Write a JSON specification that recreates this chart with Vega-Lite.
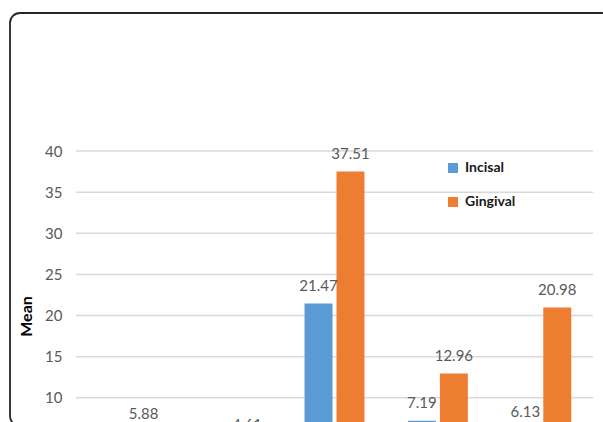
{
  "$schema": "https://vega.github.io/schema/vega-lite/v6.json",
  "width": 593,
  "height": 409,
  "autosize": {"type": "none"},
  "padding": {"left": 10, "top": 13, "right": 0, "bottom": 0},
  "background": "white",
  "config": {
    "view": {"stroke": null},
    "font": "Lato"
  },
  "datasets": {
    "bars": [
      {"group": "Group 1", "series": "Incisal", "value": 2.1},
      {"group": "Group 1", "series": "Gingival", "value": 5.88},
      {"group": "Group 2", "series": "Incisal", "value": 1.8},
      {"group": "Group 2", "series": "Gingival", "value": 4.61},
      {"group": "Group 3", "series": "Incisal", "value": 21.47},
      {"group": "Group 3", "series": "Gingival", "value": 37.51},
      {"group": "Group 4", "series": "Incisal", "value": 7.19},
      {"group": "Group 4", "series": "Gingival", "value": 12.96},
      {"group": "Group 5", "series": "Incisal", "value": 6.13},
      {"group": "Group 5", "series": "Gingival", "value": 20.98}
    ],
    "grid": [
      {"v": 10}, {"v": 15}, {"v": 20}, {"v": 25}, {"v": 30}, {"v": 35}, {"v": 40}
    ],
    "frame": [
      {"x0": 0, "x1": 1, "top": 56.778, "bottom": 6.565}
    ]
  },
  "resolve": {"scale": {"x": "independent"}},
  "layer": [
    {
      "data": {"name": "grid"},
      "mark": {"type": "rule", "color": "#d9d9d9", "strokeWidth": 1.5, "clip": true},
      "encoding": {
        "y": {"field": "v", "type": "quantitative"},
        "x": {"datum": 0, "type": "quantitative", "scale": {"domain": [-0.12766, 1.01934], "nice": false, "zero": false}, "axis": null},
        "x2": {"datum": 1}
      }
    },
    {
      "data": {"name": "bars"},
      "mark": {"type": "bar", "clip": true},
      "encoding": {
        "x": {
          "field": "group",
          "type": "nominal",
          "axis": null,
          "scale": {
            "domain": ["Group 1", "Group 2", "Group 3", "Group 4", "Group 5"],
            "paddingInner": 0,
            "paddingOuter": 0.3675,
            "align": 0.8684
          }
        },
        "xOffset": {
          "field": "series",
          "type": "nominal",
          "scale": {"domain": ["Incisal", "Gingival"], "paddingInner": 0.125, "paddingOuter": 0.68}
        },
        "y": {
          "field": "value",
          "type": "quantitative",
          "scale": {"domain": [7.052, 56.778], "nice": false, "zero": false},
          "axis": {
            "title": "Mean",
            "orient": "left",
            "offset": -66,
            "values": [10, 15, 20, 25, 30, 35, 40],
            "grid": false,
            "domain": false,
            "ticks": false,
            "labelPadding": 14,
            "labelFont": "Lato",
            "labelFontSize": 15,
            "labelColor": "#595959",
            "titleFont": "Lato",
            "titleFontWeight": "bold",
            "titleFontSize": 16,
            "titleColor": "#000000",
            "titlePadding": 10,
            "titleY": 303
          }
        },
        "color": {
          "field": "series",
          "type": "nominal",
          "scale": {"domain": ["Incisal", "Gingival"], "range": ["#5b9bd5", "#ed7d31"]},
          "legend": {
            "orient": "none",
            "legendX": 436,
            "legendY": 148,
            "title": null,
            "symbolType": "square",
            "symbolSize": 100,
            "symbolStrokeWidth": 0,
            "labelFont": "Lato",
            "labelFontSize": 14,
            "labelFontWeight": "bold",
            "labelColor": "#1a1a1a",
            "labelOffset": 5,
            "rowPadding": 20,
            "padding": 0
          }
        }
      }
    },
    {
      "data": {"name": "bars"},
      "mark": {"type": "text", "baseline": "alphabetic", "dy": -12.5, "fontSize": 15, "font": "Lato", "color": "#595959", "clip": true},
      "encoding": {
        "x": {
          "field": "group",
          "type": "nominal",
          "axis": null,
          "scale": {
            "domain": ["Group 1", "Group 2", "Group 3", "Group 4", "Group 5"],
            "paddingInner": 0,
            "paddingOuter": 0.3675,
            "align": 0.8684
          }
        },
        "xOffset": {
          "field": "series",
          "type": "nominal",
          "scale": {"domain": ["Incisal", "Gingival"], "paddingInner": 0.125, "paddingOuter": 0.68}
        },
        "y": {"field": "value", "type": "quantitative"},
        "text": {"field": "value", "type": "quantitative", "format": ".2f"}
      }
    },
    {
      "data": {"name": "frame"},
      "mark": {"type": "rect", "fillOpacity": 0, "stroke": "#262626", "strokeWidth": 1.8, "cornerRadius": 10, "clip": false},
      "encoding": {
        "x": {"field": "x0", "type": "quantitative", "scale": {"domain": [0, 0.98505], "nice": false, "zero": false}, "axis": null},
        "x2": {"field": "x1"},
        "y": {"field": "top", "type": "quantitative"},
        "y2": {"field": "bottom"}
      }
    }
  ]
}
